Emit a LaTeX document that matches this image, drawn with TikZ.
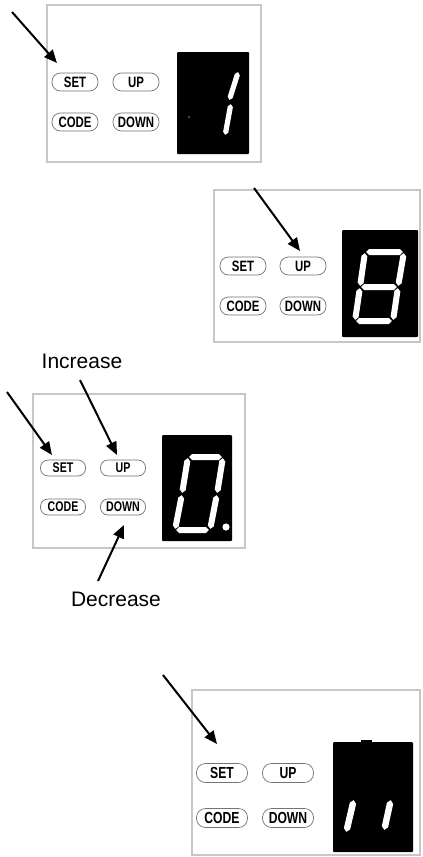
\documentclass[tikz,border=0pt]{standalone}
\usepackage{fontspec}
\setmainfont{Liberation Sans}
\newfontfamily\btnfont[FakeStretch=0.76]{Liberation Sans Bold}
\usetikzlibrary{arrows.meta,calc}
\tikzset{
  panel/.style={draw=black!22, line width=1.3pt},
  btn/.style={draw=black!55, line width=0.7pt, rounded corners=8.5pt,
    minimum width=46pt, minimum height=18pt, inner sep=0pt,
    font=\btnfont\fontsize{15}{15}\selectfont},
  btnsmall/.style={btn, minimum width=45pt, minimum height=16pt, rounded corners=7.5pt,
    font=\btnfont\fontsize{14}{14}\selectfont},
  btnbig/.style={btn, minimum width=51pt, minimum height=19pt, rounded corners=9pt,
    font=\btnfont\fontsize{16}{16}\selectfont},
  ptr/.style={line width=2pt, -{Triangle[length=13pt,width=11pt]}},
  lbl/.style={font=\fontsize{21}{21}\selectfont, inner sep=0pt},
  disp/.style={fill=black, rounded corners=1pt},
}
\newcommand\segm[3]{%
  \coordinate (sP) at ($(#2)!1.2pt!(#3)$);
  \coordinate (sQ) at ($(#3)!1.2pt!(#2)$);
  \fill[white] (sP) -- ($(sP)!#1!(sQ)!#1!90:(sQ)$) -- ($(sQ)!#1!(sP)!#1!-90:(sP)$)
    -- (sQ) -- ($(sQ)!#1!(sP)!#1!90:(sP)$) -- ($(sP)!#1!(sQ)!#1!-90:(sQ)$) -- cycle;}
\begin{document}
\begin{tikzpicture}[x=1pt,y=-1pt]
\useasboundingbox (0,0) rectangle (423,857);
\fill[white] (0,0) rectangle (423,857);

% ---------- panel 1 ----------
\draw[panel] (47,5) rectangle (261,162);
\node[btn] (set1) at (75,82) {SET};
\node[btn] (up1) at (136,82) {UP};
\node[btn] (code1) at (75,122) {CODE};
\node[btn] (down1) at (136,122) {DOWN};
\fill[disp] (177,52) rectangle (249,154);
\coordinate (d1a) at (238.5,71); \coordinate (d1b) at (229,101);
\coordinate (d1c) at (231,103); \coordinate (d1d) at (225,136);
\segm{2.6pt}{d1a}{d1b}
\segm{2.6pt}{d1c}{d1d}
\fill[black!55] (189,117) circle (1pt);
\coordinate (a1s) at (12,12); \coordinate (a1e) at (57,63);
\draw[ptr] (a1s) -- (a1e);

% ---------- panel 2 ----------
\draw[panel] (214,190) rectangle (420,342);
\node[btn] (set2) at (243,266) {SET};
\node[btn] (up2) at (303,266) {UP};
\node[btn] (code2) at (243,306) {CODE};
\node[btn] (down2) at (303,306) {DOWN};
\fill[disp] (342,230) rectangle (418,337);
\coordinate (TL2) at (365,252); \coordinate (TR2) at (404,252);
\coordinate (ML2) at (360,287); \coordinate (MR2) at (398,287);
\coordinate (BL2) at (355,321); \coordinate (BR2) at (393,321);
\segm{3pt}{TL2}{TR2}
\segm{3pt}{TR2}{MR2}
\segm{3pt}{MR2}{BR2}
\segm{3pt}{BL2}{BR2}
\segm{3pt}{ML2}{BL2}
\segm{3pt}{TL2}{ML2}
\segm{3pt}{ML2}{MR2}
\coordinate (a2s) at (254,188); \coordinate (a2e) at (300,251);
\draw[ptr] (a2s) -- (a2e);

% ---------- panel 3 ----------
\node[lbl] (inc) at (82,361) {Increase};
\draw[panel] (33,394) rectangle (245,548);
\node[btnsmall] (set3) at (63,468) {SET};
\node[btnsmall] (up3) at (123,468) {UP};
\node[btnsmall] (code3) at (63,507) {CODE};
\node[btnsmall] (down3) at (123,507) {DOWN};
\fill[disp] (162,435) rectangle (232,541);
\coordinate (TL3) at (188,457); \coordinate (TR3) at (223,457);
\coordinate (ML3) at (182,494); \coordinate (MR3) at (217,494);
\coordinate (BL3) at (175,530); \coordinate (BR3) at (210,530);
\segm{3pt}{TL3}{TR3}
\segm{3pt}{TR3}{MR3}
\segm{3pt}{MR3}{BR3}
\segm{3pt}{BL3}{BR3}
\segm{3pt}{ML3}{BL3}
\segm{3pt}{TL3}{ML3}
\fill[white] (226,527) circle (3.6pt);
\coordinate (a3s) at (7,392); \coordinate (a3e) at (52,455);
\draw[ptr] (a3s) -- (a3e);
\coordinate (a4s) at (80,380); \coordinate (a4e) at (117,455);
\draw[ptr] (a4s) -- (a4e);
\node[lbl] (dec) at (116,599) {Decrease};
\coordinate (a5s) at (98,581); \coordinate (a5e) at (124,525);
\draw[ptr] (a5s) -- (a5e);

% ---------- panel 4 ----------
\draw[panel] (192,690) rectangle (420,855);
\node[btnbig] (set4) at (222,773) {SET};
\node[btnbig] (up4) at (288,773) {UP};
\node[btnbig] (code4) at (222,818) {CODE};
\node[btnbig] (down4) at (288,818) {DOWN};
\fill[disp] (333,742) rectangle (413,852);
\fill[black] (361,740) rectangle (372,743);
\coordinate (d4a) at (354,799); \coordinate (d4b) at (346,833);
\coordinate (d4c) at (391,799); \coordinate (d4d) at (384,831);
\segm{3.2pt}{d4a}{d4b}
\segm{3.2pt}{d4c}{d4d}
\coordinate (a6s) at (163,675); \coordinate (a6e) at (217,744);
\draw[ptr] (a6s) -- (a6e);
\end{tikzpicture}
\end{document}
